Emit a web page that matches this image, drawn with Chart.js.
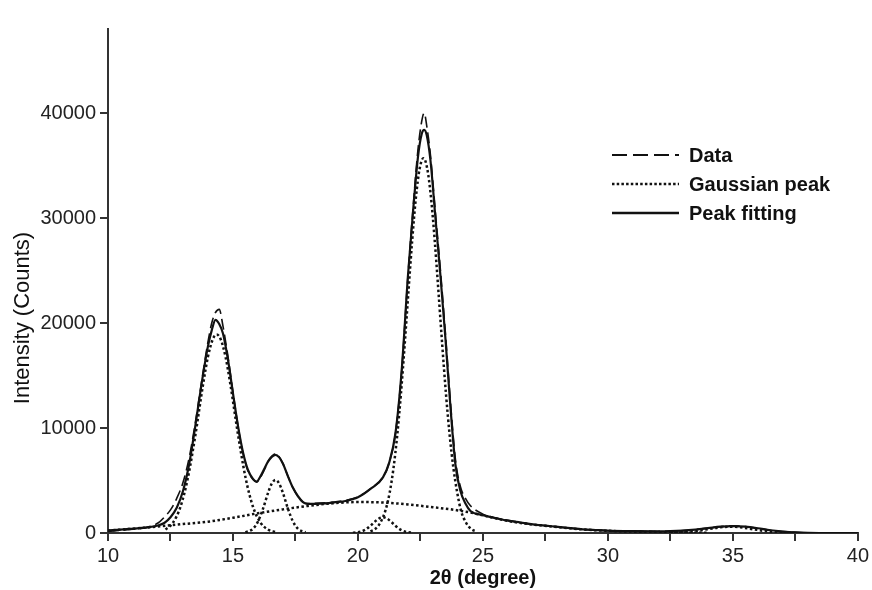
<!DOCTYPE html>
<html>
<head>
<meta charset="utf-8">
<script src="https://cdn.jsdelivr.net/npm/chart.js@4"></script>
<style>
    body { margin: 0; background: #fff; }
    #wrap { width: 872px; height: 590px; }
</style>
</head>
<body>
<div id="wrap"><canvas id="graph" width="872" height="590"></canvas></div>
<script>
// 2theta positions and intensities
const fitX = [10, 10.5, 11, 11.5, 12, 12.25, 12.5, 12.75, 13, 13.25, 13.5, 13.75, 14, 14.15, 14.3, 14.45, 14.6, 14.8, 15, 15.2,
    15.4, 15.6, 15.8, 15.95, 16.1, 16.25, 16.4, 16.55, 16.7, 16.85, 17, 17.2, 17.4, 17.6, 17.8, 18, 18.5, 19, 19.5, 20,
    20.5, 21, 21.25, 21.5, 21.75, 22, 22.2, 22.4, 22.55, 22.65, 22.75, 22.9, 23.1, 23.3, 23.5, 23.7, 23.9, 24.1, 24.3, 24.5,
    25, 25.5, 26, 26.5, 27, 27.5, 28, 28.5, 29, 29.5, 30, 31, 32, 32.5, 33, 33.5, 34, 34.5, 35, 35.5,
    36, 36.5, 37, 37.5, 38, 39, 40];
const fitY = [250, 320, 420, 520, 720, 950, 1500, 2400, 4000, 6600, 10300, 14300, 17800, 19300, 20300, 19900, 19000, 16500, 13300, 10200,
    7700, 6000, 5150, 4900, 5400, 6100, 6800, 7250, 7450, 7200, 6600, 5400, 4300, 3500, 2950, 2780, 2800, 2900, 3050, 3400,
    4200, 5300, 6700, 9500, 15500, 24500, 30500, 35800, 38000, 38400, 37900, 35500, 30000, 24500, 18500, 12000, 6500, 4000, 2800, 2100,
    1700, 1400, 1180, 1000, 820, 700, 580, 460, 350, 280, 220, 170, 150, 170, 230, 330, 460, 600, 650, 600,
    450, 260, 140, 60, 20, 0, 0];
const dataY = [150, 250, 350, 500, 950, 1500, 2200, 3300, 4800, 7200, 10600, 14500, 18200, 20000, 21000, 21300, 19700, 16800, 13400, 10200,
    7600, 5900, 5100, 4850, 5300, 6000, 6800, 7300, 7550, 7250, 6600, 5400, 4300, 3500, 2950, 2800, 2850, 2950, 3100, 3450,
    4200, 5300, 6700, 9500, 15500, 24500, 30800, 36500, 39200, 40000, 38800, 36000, 30500, 25000, 19000, 12500, 7000, 4400, 3300, 2600,
    1800, 1450, 1200, 1000, 820, 700, 580, 460, 350, 280, 220, 170, 150, 170, 230, 330, 460, 600, 680, 620,
    450, 260, 140, 60, 20, 0, 0];

// gaussian components (dotted)
const g1X = [12.3, 12.6, 12.9, 13.2, 13.5, 13.8, 14.0, 14.2, 14.35, 14.5, 14.7, 14.9, 15.2, 15.5, 15.8, 16.1, 16.4, 16.7];
const g1Y = [330, 990, 2500, 5300, 9400, 14100, 16800, 18500, 18900, 18500, 16800, 14100, 9400, 5300, 2500, 990, 330, 90];
const g2X = [15.5, 15.8, 16.0, 16.2, 16.4, 16.55, 16.7, 16.85, 17.0, 17.2, 17.4, 17.6, 17.9];
const g2Y = [60, 400, 1100, 2300, 3800, 4700, 5050, 4700, 3800, 2300, 1100, 400, 60];
const g3X = [10, 11, 12, 12.5, 13, 14, 15, 16, 17, 18, 19, 20, 21, 22, 23, 23.7, 24, 24.5, 25, 26, 27, 28, 29, 30, 31, 32, 33, 34];
const g3Y = [230, 410, 620, 730, 850, 1080, 1450, 1880, 2250, 2580, 2830, 2950, 2900, 2720, 2450, 2260, 2150, 1950, 1680, 1150, 800, 560, 340, 210, 130, 80, 40, 20];
const g4X = [19.8, 20.1, 20.3, 20.5, 20.7, 20.85, 21.0, 21.15, 21.3, 21.5, 21.7, 21.9, 22.2];
const g4Y = [20, 120, 320, 690, 1130, 1400, 1500, 1400, 1130, 690, 320, 120, 20];
const g5X = [20.5, 20.7, 20.9, 21.1, 21.27, 21.42, 21.57, 21.72, 21.87, 22.02, 22.17, 22.32, 22.47, 22.62,
    22.77, 22.92, 23.07, 23.22, 23.37, 23.52, 23.67, 23.82, 23.97, 24.12, 24.32, 24.52, 24.75];
const g5Y = [150, 400, 1000, 2150, 3860, 6150, 9290, 13280, 17960, 23000, 27880, 31990, 34730, 35700,
    34730, 31990, 27880, 23000, 17960, 13280, 9290, 6150, 3860, 2150, 1000, 400, 150];
const g6X = [32.5, 33, 33.5, 34, 34.5, 34.9, 35.3, 35.8, 36.3, 36.8, 37.3];
const g6Y = [20, 65, 180, 360, 540, 600, 540, 360, 180, 65, 20];

const xTicks = [10, 12.5, 15, 17.5, 20, 22.5, 25, 27.5, 30, 32.5, 35, 37.5, 40];
const yTicks = [0, 10000, 20000, 30000, 40000];
const legendLabels = ['Data', 'Gaussian peak', 'Peak fitting'];
const xTitle = '2θ (degree)';
const yTitle = 'Intensity (Counts)';

const FONT = "'Liberation Sans', Arial, sans-serif";
const INK = '#111';

function pts(xs, ys) {
    return xs.map((x, i) => ({x: x, y: ys[i]}));
}

function dotted(xs, ys) {
    return {
        data: pts(xs, ys),
        borderColor: INK,
        borderWidth: 2.5,
        borderDash: [2.5, 2.5],
    };
}

// legend inside the plot + rotated y title
const extras = {
    id: 'extras',
    afterDraw(chart) {
        const ctx = chart.ctx;
        ctx.save();
        const rows = [
            {y: 155, dash: [15, 6], w: 2},
            {y: 184, dash: [2.5, 2.2], w: 2.5},
            {y: 213, dash: [], w: 2.5}
        ];
        ctx.font = 'bold 20px ' + FONT;
        ctx.textBaseline = 'middle';
        ctx.fillStyle = INK;
        rows.forEach((r, i) => {
            ctx.beginPath();
            ctx.setLineDash(r.dash);
            ctx.lineWidth = r.w;
            ctx.strokeStyle = INK;
            ctx.moveTo(612, r.y);
            ctx.lineTo(679, r.y);
            ctx.stroke();
            ctx.fillText(legendLabels[i], 689, r.y + 1);
        });
        ctx.setLineDash([]);

        ctx.translate(23, 318);
        ctx.rotate(-Math.PI / 2);
        ctx.textAlign = 'center';
        ctx.font = '22px ' + FONT;
        ctx.fillText(yTitle, 0, 0);
        ctx.restore();
    }
};

Chart.defaults.color = '#222';
Chart.defaults.font.family = FONT;

const graph = new Chart(document.getElementById('graph'), {
    type: 'scatter',
    data: {
        datasets: [
            {data: pts(fitX, fitY), borderColor: INK, borderWidth: 2.2},
            {data: pts(fitX, dataY), borderColor: INK, borderWidth: 1.6, borderDash: [11, 5]},
            dotted(g1X, g1Y),
            dotted(g2X, g2Y),
            dotted(g3X, g3Y),
            dotted(g4X, g4Y),
            dotted(g5X, g5Y),
            dotted(g6X, g6Y),
        ]
    },
    options: {
        responsive: false,
        animation: false,
        showLine: true,
        elements: {
            point: {radius: 0, hoverRadius: 0},
            line: {cubicInterpolationMode: 'monotone', fill: false}
        },
        layout: {padding: {top: 29, right: 14, left: 0, bottom: 0}},
        plugins: {legend: {display: false}, tooltip: {enabled: false}},
        scales: {
            x: {
                type: 'linear',
                min: 10,
                max: 40,
                afterBuildTicks: s => { s.ticks = xTicks.map(v => ({value: v})); },
                afterFit: s => { s.height = 57; },
                border: {display: true, color: '#333', width: 2},
                grid: {drawOnChartArea: false, tickLength: 8, color: '#333', lineWidth: 2},
                ticks: {
                    padding: 3,
                    maxRotation: 0,
                    autoSkip: false,
                    font: {size: 20},
                    callback: v => (v % 5 === 0 ? String(v) : '')
                },
                title: {display: true, text: xTitle, font: {size: 20, weight: 'bold'}, padding: 0, color: INK}
            },
            y: {
                min: 0,
                max: 48000,
                afterBuildTicks: s => { s.ticks = yTicks.map(v => ({value: v})); },
                afterFit: s => { s.width = 108; },
                border: {display: true, color: '#333', width: 2},
                grid: {drawOnChartArea: false, tickLength: 8, color: '#333', lineWidth: 2},
                ticks: {
                    padding: 4,
                    autoSkip: false,
                    font: {size: 20},
                    callback: v => String(v)
                }
            }
        }
    },
    plugins: [extras]
});
</script>
</body>
</html>
